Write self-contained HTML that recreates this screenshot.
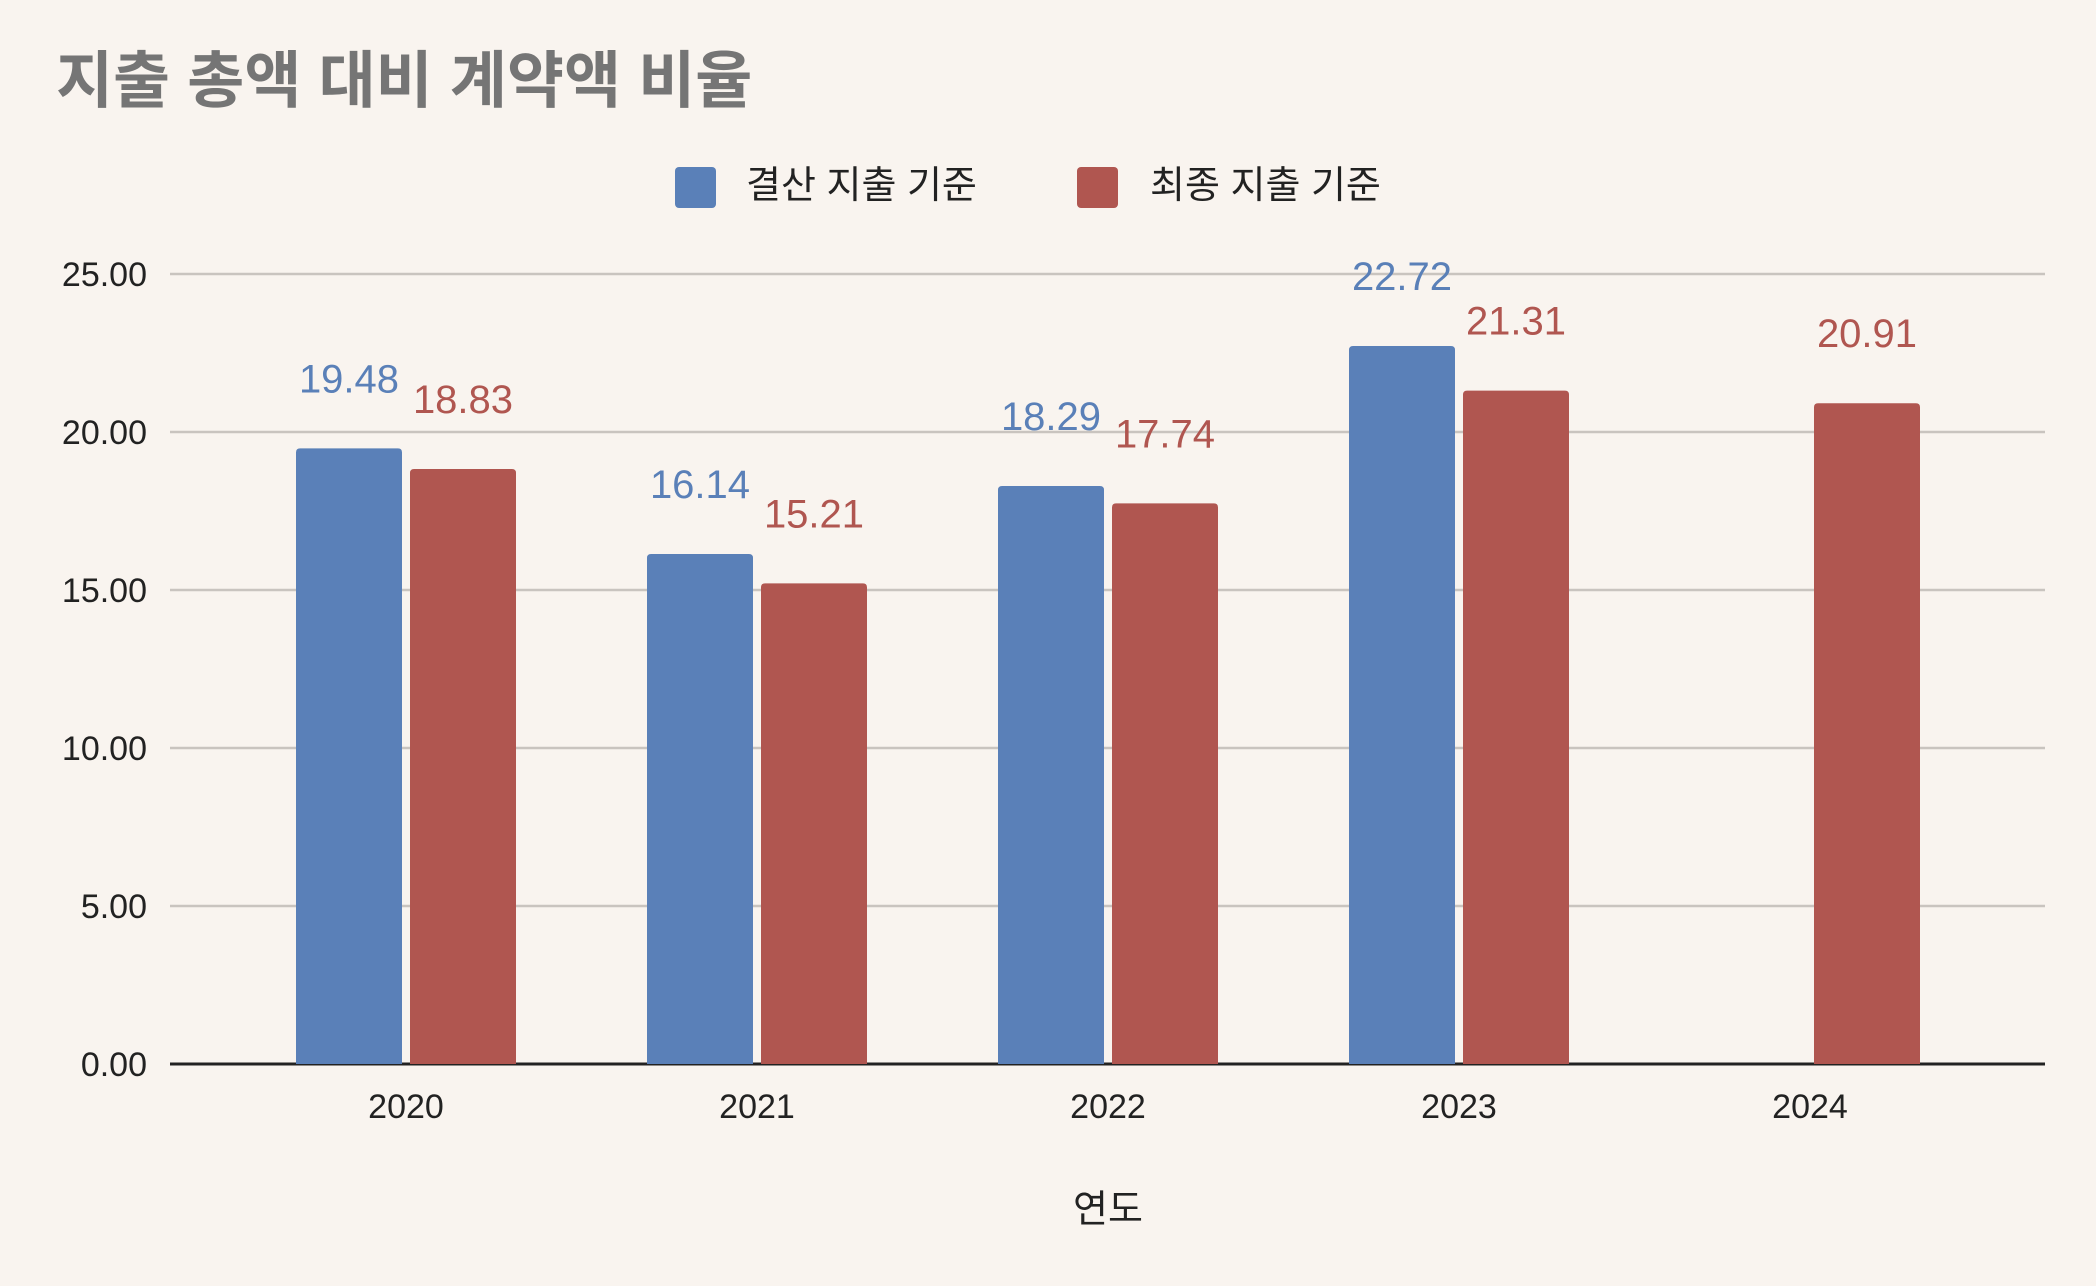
<!DOCTYPE html>
<html><head><meta charset="utf-8"><style>
html,body{margin:0;padding:0;background:#f9f4ef;}
svg{display:block;}
text{font-family:"Liberation Sans","Noto Sans CJK KR",sans-serif;}
</style></head><body>
<svg id="chart" width="2096" height="1286" viewBox="0 0 2096 1286">
<rect width="2096" height="1286" fill="#f9f4ef"/>
<text x="56" y="102" font-size="62" font-weight="bold" fill="#757575">지출 총액 대비 계약액 비율</text>
<g>
<rect x="675" y="167" width="41" height="41" rx="4" fill="#5a80b8"/>
<text x="746" y="198" font-size="38" fill="#222">결산 지출 기준</text>
<rect x="1077" y="167" width="41" height="41" rx="4" fill="#b05650"/>
<text x="1150" y="198" font-size="38" fill="#222">최종 지출 기준</text>
</g>
<g id="grid"></g><g id="bars"></g><g id="labels"></g>
<text x="1108" y="1222" font-size="38" text-anchor="middle" fill="#222">연도</text>
</svg>
<script>
const categories = ["2020","2021","2022","2023","2024"];
const settlementValues = [19.48,16.14,18.29,22.72,null];
const finalValues = [18.83,15.21,17.74,21.31,20.91];
const yTicks = [0,5,10,15,20,25];
const yTickLabels = ["0.00","5.00","10.00","15.00","20.00","25.00"];
const NS="http://www.w3.org/2000/svg";
const x0=170,x1=2045,yBase=1064,yTop=274,yMax=25;
const step=351, firstCenter=406, barW=106, gap=8;
function yS(v){return yBase-(v/yMax)*(yBase-yTop);}
function xC(i){return firstCenter+i*step;}
function mk(tag,attrs,parent){const e=document.createElementNS(NS,tag);for(const k in attrs)e.setAttribute(k,attrs[k]);parent.appendChild(e);return e;}
const grid=document.getElementById('grid'),bars=document.getElementById('bars'),labels=document.getElementById('labels');
yTicks.forEach((t,i)=>{
 const y=yS(t);
 const l=mk('line',{x1:x0,x2:x1,y1:y,y2:y,stroke:t===0?'#222':'#c9c4bf','stroke-width':t===0?3:2.5},grid);
 
 
 const tx=mk('text',{x:147,y:y+12,'font-size':34,'text-anchor':'end',fill:'#222'},grid);
 tx.textContent=yTickLabels[i];
 
 
});
categories.forEach((c,i)=>{
 const tx=mk('text',{x:xC(i),y:1118,'font-size':34,'text-anchor':'middle',fill:'#222'},labels);
 tx.textContent=c;
 
 
 const series=[[settlementValues[i],'#5a80b8',-1,'bar-settlement'],[finalValues[i],'#b05650',1,'bar-final']];
 series.forEach(([v,col,side,nm])=>{
  if(v==null)return;
  const bx=side<0?xC(i)-gap/2-barW:xC(i)+gap/2;
  const top=yS(v);
  const b=mk('path',{d:`M${bx},${yBase} V${top+4} Q${bx},${top} ${bx+4},${top} H${bx+barW-4} Q${bx+barW},${top} ${bx+barW},${top+4} V${yBase} Z`,fill:col},bars);
  
  
  const lt=mk('text',{x:bx+barW/2,y:top-56,'font-size':40,'text-anchor':'middle',fill:col},labels);
  lt.textContent=v.toFixed(2);
  
  
 });
});
</script>
</body></html>
